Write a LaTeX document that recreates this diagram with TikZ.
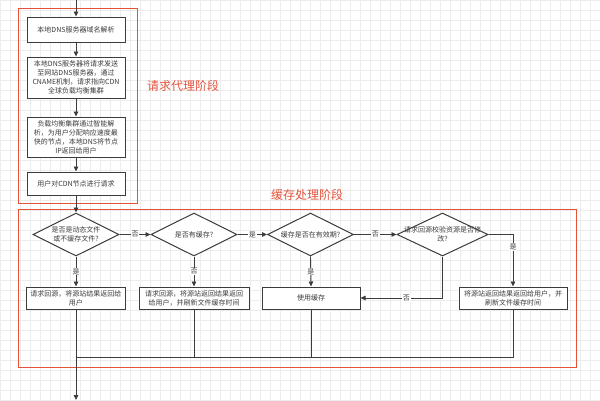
\documentclass[tikz,border=0pt]{standalone}
\usepackage{fontspec}
\setmainfont{Noto Sans CJK SC}
\usetikzlibrary{shapes.geometric,arrows.meta}
\definecolor{redc}{RGB}{228,82,58}
\definecolor{linec}{RGB}{60,60,60}
\definecolor{gridc}{RGB}{236,236,236}
\tikzset{
  box/.style={draw=linec,line width=1pt,fill=white,inner sep=1pt,align=center,
    font=\fontsize{7}{9}\selectfont,text=linec},
  dia/.style={draw=linec,line width=1pt,fill=white,shape=diamond,inner sep=0pt,
    minimum width=86pt,minimum height=43pt},
  dtext/.style={align=center,font=\fontsize{7}{9}\selectfont,text=linec,inner sep=0pt},
  conn/.style={draw=linec,line width=0.9pt},
  arr/.style={conn,-{Triangle[length=5pt,width=4.5pt]}},
  elab/.style={fill=white,inner sep=0.8pt,font=\fontsize{7}{8}\selectfont,text=linec},
  stage/.style={draw=redc,line width=1pt},
  stagelab/.style={text=redc,font=\fontsize{12}{14}\selectfont,inner sep=0pt}
}
\begin{document}
\begin{tikzpicture}[x=1pt,y=-1pt]
\useasboundingbox (0,0) rectangle (600,400);
\fill[white] (0,0) rectangle (600,400);
\foreach \i in {0,10,...,600} \draw[gridc,line width=0.5pt] (\i,0) -- (\i,400);
\foreach \j in {0,10,...,400} \draw[gridc,line width=0.5pt] (0,\j) -- (600,\j);
% stage frames
\draw[stage] (18,8) rectangle (137,203);
\draw[stage] (18,209) rectangle (576,367);
\node[stagelab] (lab1) at (183,86) {请求代理阶段};
\node[stagelab] (lab2) at (307,195) {缓存处理阶段};
% top boxes
\coordinate (start) at (76,0);
\node[box,minimum width=98pt,minimum height=25pt] (b1) at (76,29.5) {本地DNS服务器域名解析};
\node[box,minimum width=98pt,minimum height=41pt] (b2) at (76,77.5) {本地DNS服务器将请求发送\\至网站DNS服务器，通过\\CNAME机制，请求指向CDN\\全球负载均衡集群};
\node[box,minimum width=98pt,minimum height=40pt] (b3) at (76,137) {负载均衡集群通过智能解\\析，为用户分配响应速度最\\快的节点，本地DNS将节点\\IP返回给用户};
\node[box,minimum width=98pt,minimum height=23pt] (b4) at (76,183.5) {用户对CDN节点进行请求};
% diamonds
\node[dia,label={[dtext]center:是否是动态文件\\或不缓存文件?}] (d1) at (76,234.5) {};
\node[dia,label={[dtext]center:是否有缓存?}] (d2) at (194,234.5) {};
\node[dia,label={[dtext]center:缓存是否在有效期?}] (d3) at (310.5,234.5) {};
\node[dia,minimum width=91pt,label={[dtext]center:请求回源校验资源是否修\\改?}] (d4) at (442.5,234.5) {};
% result boxes
\node[box,minimum width=99pt,minimum height=22pt] (ba) at (76,298) {请求回源，将源站结果返回给\\用户};
\node[box,minimum width=110pt,minimum height=22pt] (bb) at (194,298) {请求回源，将源站返回结果返回\\给用户，并刷新文件缓存时间};
\node[box,minimum width=98pt,minimum height=22pt] (bc) at (311,298) {使用缓存};
\node[box,minimum width=108pt,minimum height=22pt] (bd) at (513,298) {将源站返回结果返回给用户，并\\刷新文件缓存时间};
% connectors top
\draw[arr] (start) -- (b1);
\draw[arr] (b1) -- (b2);
\draw[arr] (b2) -- (b3);
\draw[arr] (b3) -- (b4);
\draw[arr] (b4) -- (d1);
% diamond chain
\draw[arr] (d1.east) -- node[elab] {否} (d2.west);
\draw[arr] (d2.east) -- node[elab] {是} (d3.west);
\draw[arr] (d3.east) -- node[elab] {否} (d4.west);
\draw[arr] (d4.east) -| node[elab,pos=0.62] {是} (bd.north);
\draw[arr] (d4.south) |- node[elab,pos=0.72] {否} (bc.east);
\draw[arr] (d1.south) -- node[elab] {是} (ba.north);
\draw[arr] (d2.south) -- node[elab] {否} (bb.north);
\draw[arr] (d3.south) -- node[elab] {是} (bc.north);
% merge
\coordinate (m) at (76,357);
\coordinate (end) at (76,400);
\draw[conn] (bb.south) |- (m);
\draw[conn] (bc.south) |- (m);
\draw[conn] (bd.south) |- (m);
\draw[arr] (ba.south) -- (end);
\end{tikzpicture}
\end{document}
